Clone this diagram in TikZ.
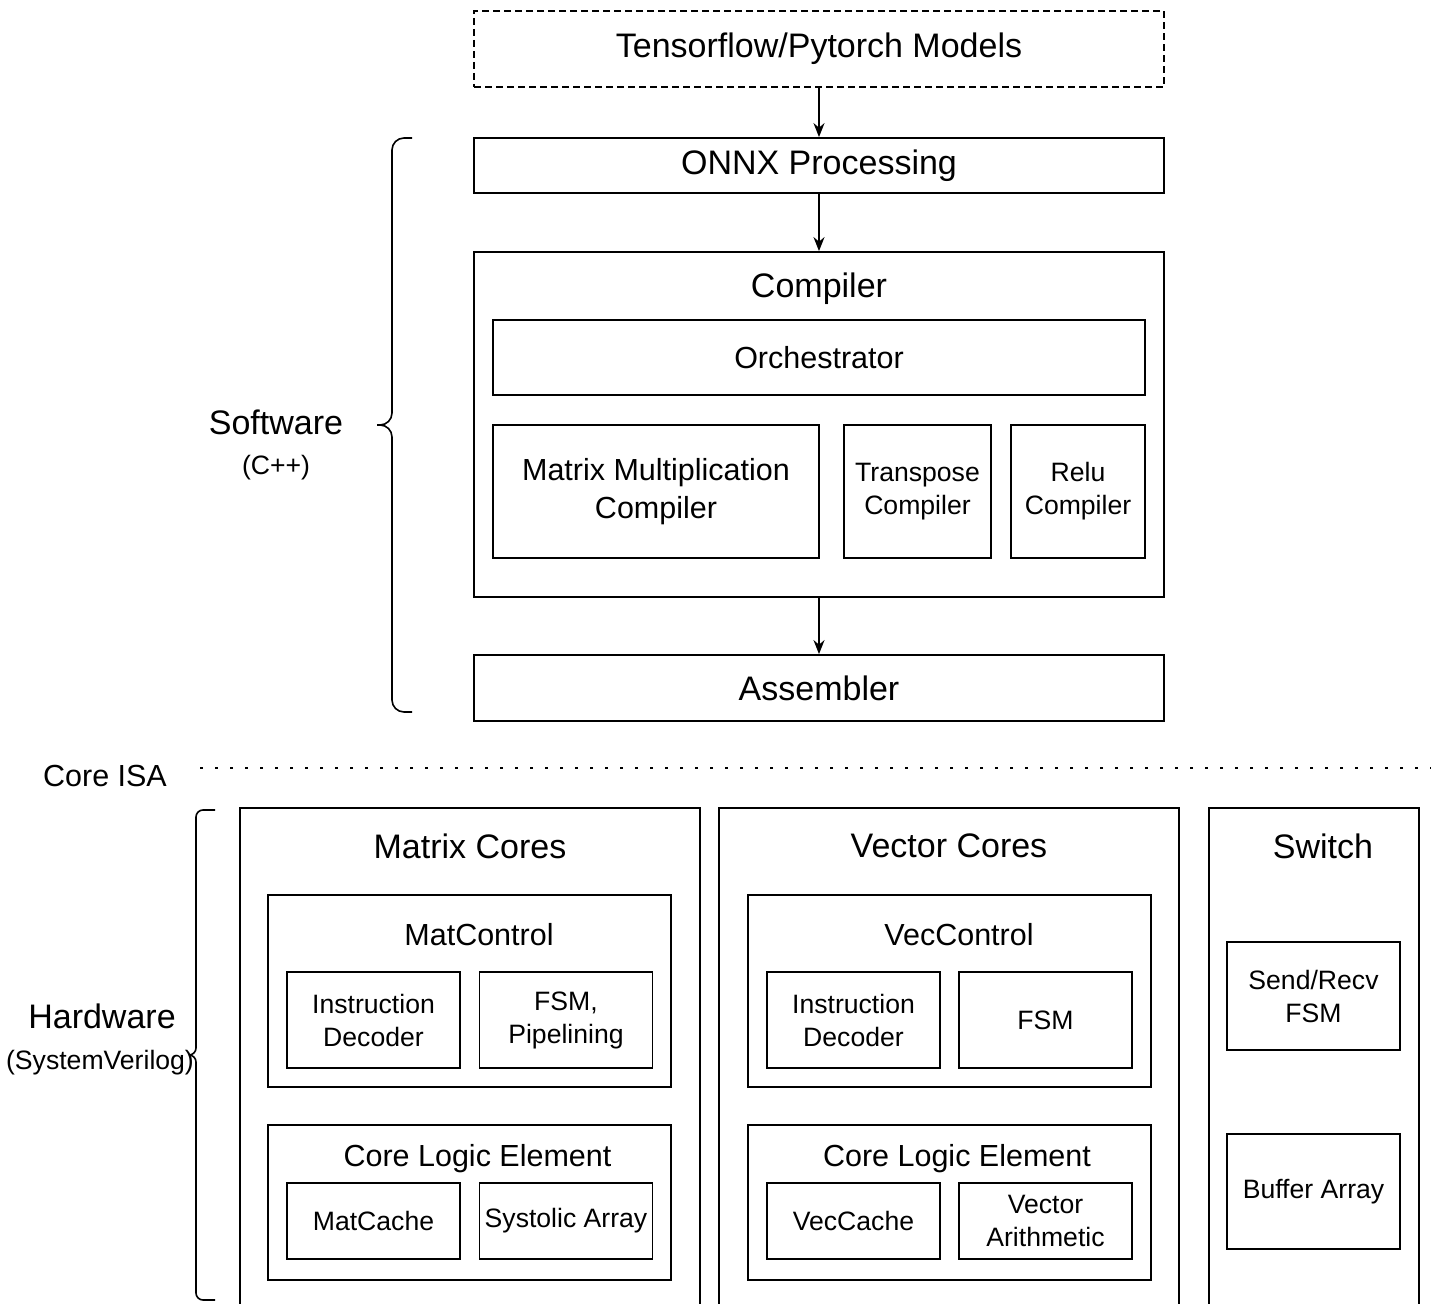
\documentclass[tikz,border=0pt]{standalone}
\usepackage{fontspec}
\setmainfont{Liberation Sans}
\usetikzlibrary{arrows.meta}
\tikzset{>={Stealth[length=7pt, width=5.5pt]},
big/.style={font=\fontsize{17}{21}\selectfont, align=center},
mid/.style={font=\fontsize{15.25}{19}\selectfont, align=center},
small/.style={font=\fontsize{13.3}{16.5}\selectfont, align=center},
box/.style={draw, line width=0.9pt, inner sep=0pt},
sz/.style 2 args={minimum width=#1*0.5pt, minimum height=#2*0.5pt},
brace/.style={line width=0.8pt, rounded corners=6pt},
}

\begin{document}
\begin{tikzpicture}[x=0.5pt, y=-0.5pt]
    \clip (0,0) rectangle (1431,1304);

    % software stack
    \node[box, dash pattern=on 3.5pt off 2pt, sz={690}{76}, big] (models) at (819,49) {Tensorflow/Pytorch Models};
    \node[box, sz={690}{55}, big] (onnx) at (819,165.5) {ONNX Processing};
    \node[box, sz={690}{345}] (compiler) at (819,424.5) {};
    \node[big] (compilertitle) at (819,289) {Compiler};
    \node[box, sz={652}{75}, mid] (orch) at (819,357.5) {Orchestrator};
    \node[box, sz={326}{133}, mid] (mmcomp) at (656,491.5) {Matrix Multiplication\\Compiler};
    \node[box, sz={147}{133}, small] (trcomp) at (917.5,491.5) {Transpose\\Compiler};
    \node[box, sz={134}{133}, small] (relucomp) at (1078,491.5) {Relu\\Compiler};
    \node[box, sz={690}{66}, big] (asm) at (819,688) {Assembler};

    \draw[->, line width=0.9pt] (models) -- (onnx);
    \draw[->, line width=0.9pt] (onnx) -- (compiler);
    \draw[->, line width=0.9pt] (compiler) -- (asm);

    \coordinate (swtop) at (412,138);
    \coordinate (swbot) at (412,712);
    \coordinate (swtip) at (377,425);
    \draw[brace] (swtop) -| (392,425) -- (swtip);
    \draw[brace] (swbot) -| (392,425) -- (swtip);
    \node[big] (swlabel) at (276,422) {Software};
    \node[small] (swlang) at (276,468) {(C++)};

    % ISA line
    \node[mid] (isalabel) at (105,776) {Core ISA};
    \coordinate (isastart) at (200,768);
    \coordinate (isaend) at (1431,768);
    \draw[line width=1.3pt, dash pattern=on 1.3pt off 6.2pt] (isastart) -- (isaend);

    % hardware
    \coordinate (hwtop) at (215,810);
    \coordinate (hwbot) at (215,1300);
    \coordinate (hwtip) at (189,1055);
    \draw[brace, rounded corners=3.5pt] (hwtop) -| (196,1055) -- (hwtip);
    \draw[brace, rounded corners=3.5pt] (hwbot) -| (196,1055) -- (hwtip);
    \node[big] (hwlabel) at (102,1016) {Hardware};
    \node[small] (hwlang) at (100,1063) {(SystemVerilog)};

    % matrix cores
    \node[box, sz={460}{532}] (matcores) at (470,1074) {};
    \node[big] (matcorestitle) at (470,846) {Matrix Cores};
    \node[box, sz={403}{192}] (matctrl) at (469.5,991) {};
    \node[mid] (matctrltitle) at (479,935) {MatControl};
    \node[box, sz={173}{96}, small] (matdec) at (373.5,1020) {Instruction\\Decoder};
    \node[box, sz={173}{96}, small] (matfsm) at (566,1020) {FSM,\\Pipelining};
    \node[box, sz={403}{155}] (matcle) at (469.5,1202.5) {};
    \node[mid] (matcletitle) at (477.5,1159) {Core Logic Element};
    \node[box, sz={173}{76}, small] (matcache) at (373.5,1221) {MatCache};
    \node[box, sz={173}{76}, small] (systolic) at (566,1221) {Systolic Array};

    % vector cores
    \node[box, sz={460}{532}] (veccores) at (949,1074) {};
    \node[big] (veccorestitle) at (949,846) {Vector Cores};
    \node[box, sz={403}{192}] (vecctrl) at (949.5,991) {};
    \node[mid] (vecctrltitle) at (959,935) {VecControl};
    \node[box, sz={173}{96}, small] (vecdec) at (853.5,1020) {Instruction\\Decoder};
    \node[box, sz={173}{96}, small] (vecfsm) at (1045.5,1020) {FSM};
    \node[box, sz={403}{155}] (veccle) at (949.5,1202.5) {};
    \node[mid] (veccletitle) at (957,1159) {Core Logic Element};
    \node[box, sz={173}{76}, small] (veccache) at (853.5,1221) {VecCache};
    \node[box, sz={173}{76}, small] (vecarith) at (1045.5,1221) {Vector\\Arithmetic};

    % switch
    \node[box, sz={210}{532}] (switch) at (1314,1074) {};
    \node[big] (switchtitle) at (1323,846) {Switch};
    \node[box, sz={173}{108}, small] (sendrecv) at (1313.5,996) {Send/Recv\\FSM};
    \node[box, sz={173}{115}, small] (buffer) at (1313.5,1191.5) {Buffer Array};
\end{tikzpicture}
\end{document}
